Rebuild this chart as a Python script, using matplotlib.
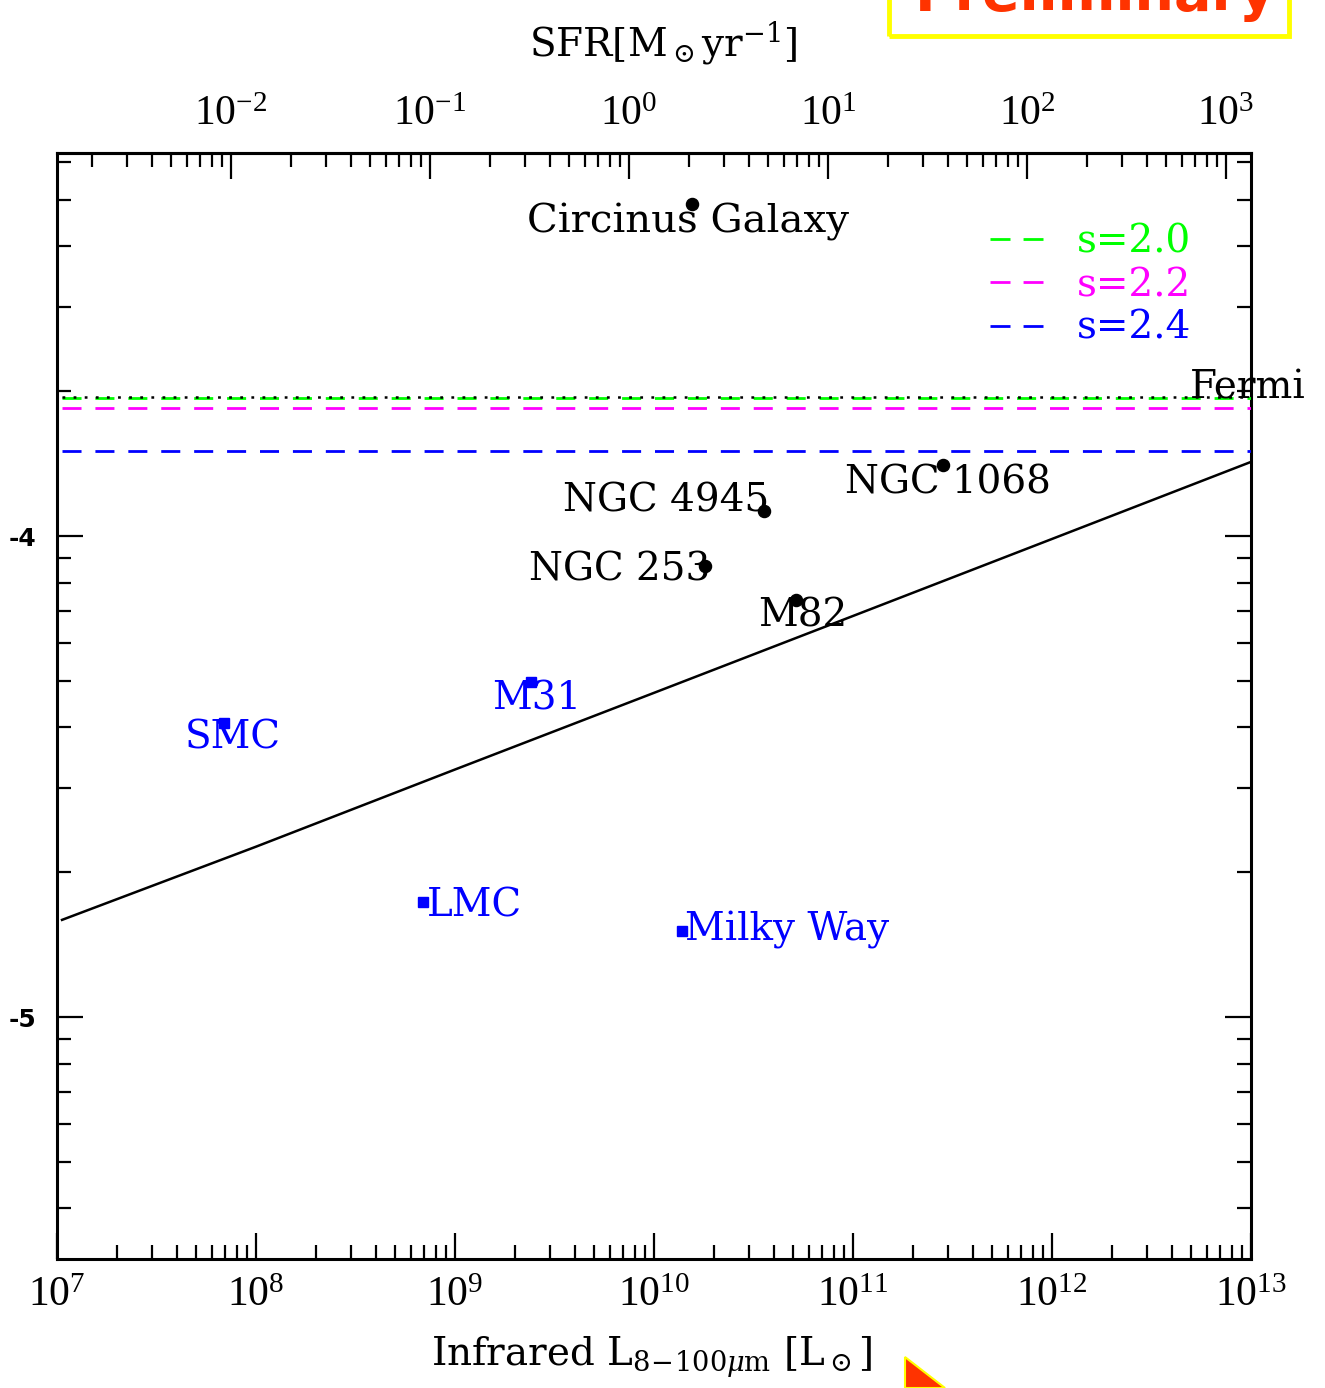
import numpy as np
import matplotlib
matplotlib.use("Agg")
import matplotlib.pyplot as plt
from matplotlib import ticker
from matplotlib.patches import Rectangle, Polygon

plt.rcParams['lines.scale_dashes'] = False
plt.rcParams['mathtext.fontset'] = 'custom'
plt.rcParams['mathtext.rm'] = 'Liberation Serif'
plt.rcParams['mathtext.it'] = 'Liberation Serif:italic'
plt.rcParams['mathtext.bf'] = 'Liberation Serif:bold'

# ---------------- data ----------------
black_names = ['Circinus Galaxy', 'NGC 1068', 'NGC 4945', 'NGC 253', 'M82']
black_L = [1.55e10, 2.83e11, 3.57e10, 1.80e10, 5.18e10]
black_F = [4.90e-4, 1.406e-4, 1.127e-4, 8.67e-5, 7.36e-5]

blue_names = ['SMC', 'M31', 'LMC', 'Milky Way']
blue_L = [6.90e7, 2.41e9, 6.90e8, 1.38e10]
blue_F = [4.08e-5, 4.97e-5, 1.734e-5, 1.51e-5]

line_L = [1.06e7, 1e8, 1e9, 1e10, 1e11, 1e12, 1e13]
line_F = [1.592e-5, 2.26e-5, 3.27e-5, 4.72e-5, 6.82e-5, 9.86e-5, 1.426e-4]

hline_L = [1.06e7, 1e13]
fermi_F = 1.949e-4
s_labels = ['s=2.0', 's=2.2', 's=2.4']
s_colors = ['#00ff00', '#ff00ff', '#0000ff']
s_F = [1.939e-4, 1.842e-4, 1.502e-4]

x_ticks = [1e7, 1e8, 1e9, 1e10, 1e11, 1e12, 1e13]
sfr_ticks = [1e-2, 1e-1, 1e0, 1e1, 1e2, 1e3]
y_ticks = [1e-5, 1e-4]

SFR_PER_L = 1.336e-10  # SFR [Msun/yr] per L_sun

W, H = 1325, 1388
fig = plt.figure(figsize=(W / 100, H / 100), dpi=100)
ax = fig.add_axes([57 / W, 1 - 1259 / H, 1194 / W, 1106 / H])
ax.set_xscale('log')
ax.set_yscale('log')
ax.set_xlim(1e7, 1e13)
ax.set_ylim(10 ** -5.5031, 10 ** -3.2037)

DASH = (0, (13.7, 10.0))

# horizontal limit lines
ax.plot(hline_L, [fermi_F] * 2, color='black', lw=1.8, ls=(0, (2.0, 6.0)), zorder=4)
for c, f in zip(s_colors, s_F):
    ax.plot(hline_L, [f] * 2, color=c, lw=2.0, ls=DASH, zorder=3)

# model line
ax.plot(line_L, line_F, color='black', lw=1.8, zorder=3)

# points
ax.plot(black_L, black_F, 'o', color='black', ms=8.7, zorder=5)
ax.plot(blue_L, blue_F, 's', color='#0000ff', ms=7.0, zorder=5)

ser = 'DejaVu Serif'
fs = 28
black_text_pos = [(2.30e9, 4.28e-4), (9.12e10, 1.228e-4), (3.49e9, 1.122e-4),
                  (2.36e9, 8.10e-5), (3.33e10, 6.47e-5)]
black_fs = [29, 28, 28, 28, 28]
for n, (x, y), f in zip(black_names, black_text_pos, black_fs):
    ax.text(x, y, n, family=ser, fontsize=f, color='black', va='baseline', ha='left', zorder=6)
blue_text_pos = [(4.40e7, 3.62e-5), (1.53e9, 4.35e-5), (7.23e8, 1.615e-5), (1.43e10, 1.445e-5)]
for n, (x, y) in zip(blue_names, blue_text_pos):
    ax.text(x, y, n, family=ser, fontsize=fs, color='#0000ff', va='baseline', ha='left', zorder=6)

ax.text(4.93e12, 1.935e-4, 'Fermi', family=ser, fontsize=fs, color='black',
        va='baseline', ha='left', clip_on=False, zorder=6)

# legend
leg_line_y = [4.145e-4, 3.373e-4, 2.733e-4]
leg_text_y = [3.877e-4, 3.14e-4, 2.58e-4]
for lab, c, ly, ty in zip(s_labels, s_colors, leg_line_y, leg_text_y):
    ax.plot([4.88e11, 9.02e11], [ly, ly], color=c, lw=2.0, ls=(0, (14.4, 9.4)))
    ax.text(1.336e12, ty, lab, family=ser, fontsize=fs, color=c, va='baseline', ha='left')

def pow_fmt(v, p):
    return r'$\mathrm{10^{%d}}$' % int(round(np.log10(v)))

# axes styling
for sp in ax.spines.values():
    sp.set_linewidth(2.2)
ax.tick_params(which='both', direction='in', top=False, right=True, width=1.6)
ax.tick_params(which='major', length=19)
ax.tick_params(which='minor', length=10)
ax.tick_params(axis='x', which='major', pad=10, labelsize=30)
ax.xaxis.set_major_locator(ticker.FixedLocator(x_ticks))
ax.xaxis.set_minor_locator(ticker.LogLocator(base=10, subs=np.arange(2, 10), numticks=20))
ax.xaxis.set_major_formatter(ticker.FuncFormatter(pow_fmt))
ax.xaxis.set_minor_formatter(ticker.NullFormatter())
ax.yaxis.set_major_locator(ticker.FixedLocator(y_ticks))
ax.yaxis.set_minor_locator(ticker.LogLocator(base=10, subs=np.arange(2, 10), numticks=20))
ax.yaxis.set_major_formatter(ticker.FuncFormatter(lambda v, p: '%d' % int(round(np.log10(v)))))
ax.yaxis.set_minor_formatter(ticker.NullFormatter())
ax.tick_params(axis='y', which='major', pad=15, labelsize=18)

# top SFR axis
secax = ax.secondary_xaxis('top', functions=(lambda L: L * SFR_PER_L, lambda s: s / SFR_PER_L))
secax.xaxis.set_major_locator(ticker.FixedLocator(sfr_ticks))
secax.xaxis.set_minor_locator(ticker.LogLocator(base=10, subs=np.arange(2, 10), numticks=20))
secax.xaxis.set_major_formatter(ticker.FuncFormatter(pow_fmt))
secax.xaxis.set_minor_formatter(ticker.NullFormatter())
secax.tick_params(which='both', direction='in', width=1.6)
secax.tick_params(which='major', length=19, pad=14, labelsize=30)
secax.tick_params(which='minor', length=10)
secax.spines['top'].set_linewidth(2.2)

# axis labels
fig.text(652 / W, 1 - 1366 / H, r'Infrared L$_{8\!-\!100\mu\mathrm{m}}$ [L$_\odot$]', family=ser,
         fontsize=28, ha='center', va='baseline', math_fontfamily='dejavuserif')
fig.text(663 / W, 1 - 56 / H, r'SFR[M$_\odot$yr$^{-1}$]', family=ser,
         fontsize=28, ha='center', va='baseline', math_fontfamily='dejavuserif')

# "Preliminary" banner (cropped at the top, as in the source image) and arrow fragment
fig.patches.append(Rectangle((889 / W, 1 - 36 / H), 400 / W, 80 / H, transform=fig.transFigure,
                             fill=False, edgecolor='#ffff00', lw=3.5, clip_on=False))
fig.text(915 / W, 1 - 10 / H, 'Preliminary', color='#ff3300', fontsize=40, fontweight='bold',
         family='DejaVu Sans', va='baseline', ha='left')
fig.patches.append(Polygon([(905 / W, 1 - 1357 / H), (905 / W, 0), (945 / W, 0)], closed=True,
                           transform=fig.transFigure, facecolor='#ff3300', edgecolor='#ffff00', lw=1.5))

fig.canvas.draw()
for t in ax.get_yticklabels():
    t.set_fontweight('bold')
    t.set_family('DejaVu Sans')

fig.savefig('out.png', dpi=100)
